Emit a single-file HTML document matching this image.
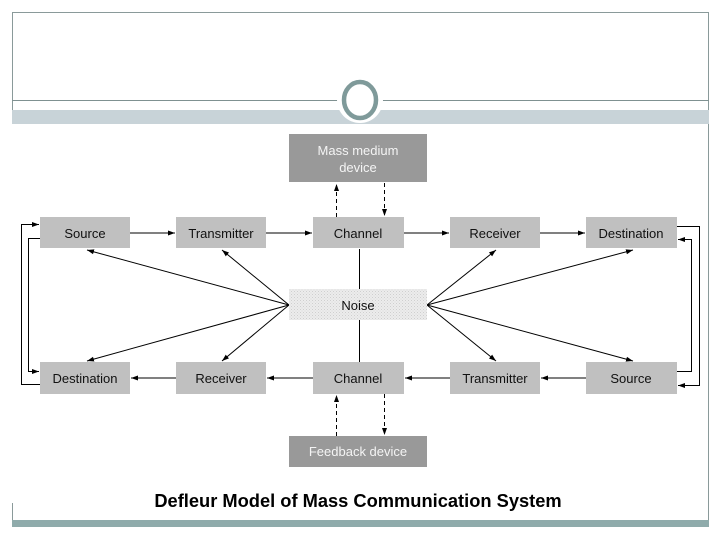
<!DOCTYPE html>
<html><head><meta charset="utf-8"><style>
html,body{margin:0;padding:0;background:#fff;}
svg{display:block;}
text{font-family:"Liberation Sans",Arial,sans-serif;}
</style></head><body>
<svg width="720" height="540" viewBox="0 0 720 540" xmlns="http://www.w3.org/2000/svg">
<defs>
<marker id="a" markerWidth="8" markerHeight="8" refX="7" refY="4" orient="auto" markerUnits="userSpaceOnUse">
<path d="M0,1.5 L7,4 L0,6.5 Z" fill="#000"/></marker>
<pattern id="dots" width="3" height="3" patternUnits="userSpaceOnUse">
<rect width="3" height="3" fill="#ececec"/><rect width="1" height="1" fill="#cfcfcf"/><rect x="1.5" y="1.5" width="1" height="1" fill="#d8d8d8"/></pattern>
</defs>
<line x1="12" y1="12.5" x2="709" y2="12.5" stroke="#8a9a9a" stroke-width="1"/>
<line x1="12.5" y1="12" x2="12.5" y2="124" stroke="#8a9a9a" stroke-width="1"/>
<line x1="708.5" y1="12" x2="708.5" y2="527" stroke="#8a9a9a" stroke-width="1"/>
<line x1="12.5" y1="503" x2="12.5" y2="527" stroke="#8a9a9a" stroke-width="1"/>
<line x1="12" y1="100.5" x2="709" y2="100.5" stroke="#7f9191" stroke-width="1"/>
<rect x="12" y="110" width="697" height="14" fill="#c8d3d8"/>
<rect x="12" y="520" width="697" height="7" fill="#8fabab"/>
<circle cx="360" cy="100" r="23" fill="#fff"/>
<ellipse cx="360" cy="100" rx="16" ry="18" fill="none" stroke="#7f9a9a" stroke-width="4.5"/>

<g stroke="#000" stroke-width="1" fill="none">
<line x1="130" y1="233" x2="175" y2="233" marker-end="url(#a)"/>
<line x1="266" y1="233" x2="312" y2="233" marker-end="url(#a)"/>
<line x1="404" y1="233" x2="449" y2="233" marker-end="url(#a)"/>
<line x1="540" y1="233" x2="585" y2="233" marker-end="url(#a)"/>
<line x1="586" y1="378" x2="541" y2="378" marker-end="url(#a)"/>
<line x1="450" y1="378" x2="405" y2="378" marker-end="url(#a)"/>
<line x1="313" y1="378" x2="267" y2="378" marker-end="url(#a)"/>
<line x1="176" y1="378" x2="131" y2="378" marker-end="url(#a)"/>
<line x1="359.5" y1="249" x2="359.5" y2="362"/>
<line x1="289" y1="305" x2="87" y2="250" marker-end="url(#a)"/>
<line x1="289" y1="305" x2="222" y2="250" marker-end="url(#a)"/>
<line x1="289" y1="305" x2="87" y2="361" marker-end="url(#a)"/>
<line x1="289" y1="305" x2="222" y2="361" marker-end="url(#a)"/>
<line x1="427" y1="305" x2="496" y2="250" marker-end="url(#a)"/>
<line x1="427" y1="305" x2="633" y2="250" marker-end="url(#a)"/>
<line x1="427" y1="305" x2="496" y2="361" marker-end="url(#a)"/>
<line x1="427" y1="305" x2="633" y2="361" marker-end="url(#a)"/>
<polyline points="40,384.5 21.5,384.5 21.5,224.5 39,224.5" marker-end="url(#a)"/>
<polyline points="40,238.5 28.5,238.5 28.5,371.5 39,371.5" marker-end="url(#a)"/>
<polyline points="677,226.5 699.5,226.5 699.5,385.5 678,385.5" marker-end="url(#a)"/>
<polyline points="677,371.5 691.5,371.5 691.5,239.5 678,239.5" marker-end="url(#a)"/>
<line x1="336.5" y1="217" x2="336.5" y2="184" stroke-dasharray="4,3" marker-end="url(#a)"/>
<line x1="384.5" y1="183" x2="384.5" y2="216" stroke-dasharray="4,3" marker-end="url(#a)"/>
<line x1="336.5" y1="436" x2="336.5" y2="395" stroke-dasharray="4,3" marker-end="url(#a)"/>
<line x1="384.5" y1="394" x2="384.5" y2="435" stroke-dasharray="4,3" marker-end="url(#a)"/>
</g>

<g fill="#c0c0c0">
<rect x="40" y="217" width="90" height="31"/>
<rect x="176" y="217" width="90" height="31"/>
<rect x="313" y="217" width="91" height="31"/>
<rect x="450" y="217" width="90" height="31"/>
<rect x="586" y="217" width="91" height="31"/>
<rect x="40" y="362" width="90" height="32"/>
<rect x="176" y="362" width="90" height="32"/>
<rect x="313" y="362" width="91" height="32"/>
<rect x="450" y="362" width="90" height="32"/>
<rect x="586" y="362" width="91" height="32"/>
</g>
<rect x="289" y="134" width="138" height="48" fill="#999"/>
<rect x="289" y="436" width="138" height="31" fill="#999"/>
<rect x="289" y="289" width="138" height="31" fill="url(#dots)"/>

<g font-size="13" text-anchor="middle" fill="#111">
<text x="85" y="238">Source</text>
<text x="221" y="238">Transmitter</text>
<text x="358" y="238">Channel</text>
<text x="495" y="238">Receiver</text>
<text x="631" y="238">Destination</text>
<text x="85" y="383">Destination</text>
<text x="221" y="383">Receiver</text>
<text x="358" y="383">Channel</text>
<text x="495" y="383">Transmitter</text>
<text x="631" y="383">Source</text>
<text x="358" y="310">Noise</text>
</g>
<g font-size="13" text-anchor="middle" fill="#f4f4f4">
<text x="358" y="155">Mass medium</text>
<text x="358" y="172">device</text>
<text x="358" y="456">Feedback device</text>
</g>
<text x="358" y="507" font-size="18.3" font-weight="bold" text-anchor="middle" fill="#000">Defleur Model of Mass Communication System</text>
</svg>
</body></html>
